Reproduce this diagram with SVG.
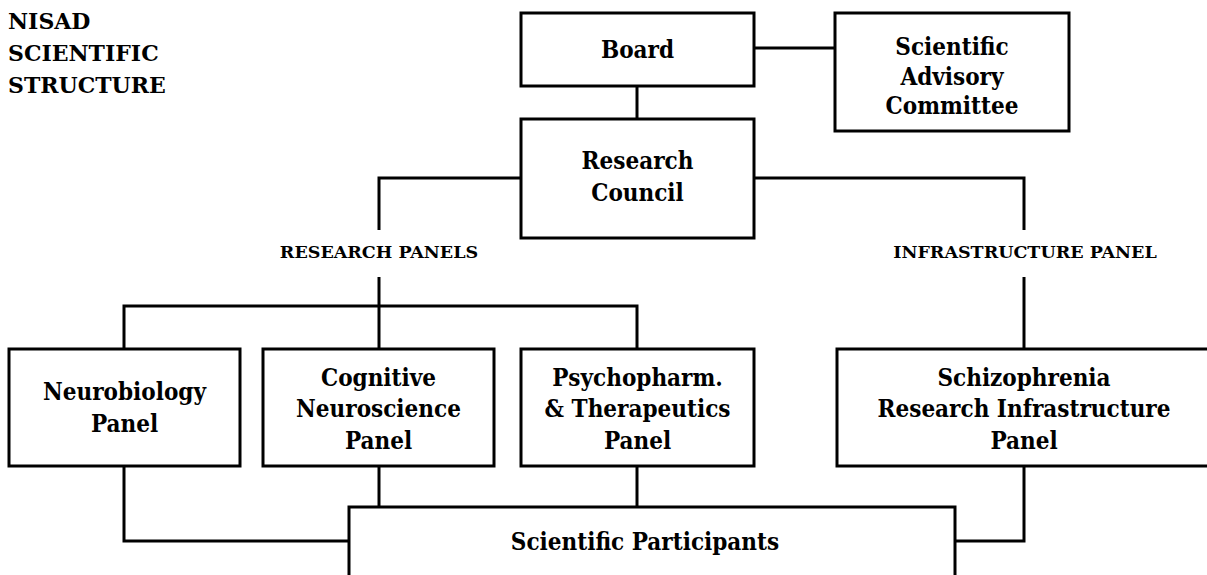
<svg xmlns="http://www.w3.org/2000/svg" width="1207" height="575" viewBox="0 0 1207 575">
<style>
.box{fill:#fff;stroke:#000;stroke-width:3}
.ln{fill:none;stroke:#000;stroke-width:3}
text{font-family:"DejaVu Serif","Liberation Serif",serif;font-weight:bold;fill:#000}
.n{font-family:"DejaVu Serif Condensed","DejaVu Serif",serif;font-stretch:condensed;font-size:24px;text-anchor:middle}
.t{font-size:22px}
.lbl{font-size:17.5px;text-anchor:middle}
</style>
<rect width="1207" height="575" fill="#fff"/>
<g id="title">
<text class="t" x="8" y="29">NISAD</text>
<text class="t" x="8" y="61">SCIENTIFIC</text>
<text class="t" x="8" y="93">STRUCTURE</text>
</g>
<g id="connectors">
<path class="ln" d="M754,48 H835"/>
<path class="ln" d="M637,86 V119"/>
<path class="ln" d="M521,178 H379 V230"/>
<path class="ln" d="M754,178 H1024 V230"/>
<path class="ln" d="M379,277 V349"/>
<path class="ln" d="M124,349 V306 H637 V349"/>
<path class="ln" d="M1024,277 V349"/>
<path class="ln" d="M124,466 V541 H349"/>
<path class="ln" d="M379,466 V507"/>
<path class="ln" d="M637,466 V507"/>
<path class="ln" d="M1024,466 V541 H955"/>
</g>
<g id="label-research">
<text class="lbl" x="379" y="258">RESEARCH PANELS</text>
</g>
<g id="label-infra">
<text class="lbl" x="1025" y="258">INFRASTRUCTURE PANEL</text>
</g>
<g id="board">
<rect class="box" x="521" y="13" width="233" height="73"/>
<text class="n" x="637.5" y="58">Board</text>
</g>
<g id="sac">
<rect class="box" x="835" y="13" width="234" height="118"/>
<text class="n" x="952" y="55">Scientific</text>
<text class="n" x="952" y="85">Advisory</text>
<text class="n" x="952" y="114">Committee</text>
</g>
<g id="council">
<rect class="box" x="521" y="119" width="233" height="119"/>
<text class="n" x="637.5" y="169">Research</text>
<text class="n" x="637.5" y="201">Council</text>
</g>
<g id="neuro">
<rect class="box" x="9" y="349" width="231" height="117"/>
<text class="n" x="124.5" y="400">Neurobiology</text>
<text class="n" x="124.5" y="432">Panel</text>
</g>
<g id="cog">
<rect class="box" x="263" y="349" width="231" height="117"/>
<text class="n" x="378.5" y="386">Cognitive</text>
<text class="n" x="378.5" y="417">Neuroscience</text>
<text class="n" x="378.5" y="449">Panel</text>
</g>
<g id="psych">
<rect class="box" x="521" y="349" width="233" height="117"/>
<text class="n" x="637.5" y="386">Psychopharm.</text>
<text class="n" x="637.5" y="417">&amp; Therapeutics</text>
<text class="n" x="637.5" y="449">Panel</text>
</g>
<g id="schizo">
<rect class="box" x="837" y="349" width="373" height="117"/>
<text class="n" x="1024" y="386">Schizophrenia</text>
<text class="n" x="1024" y="417">Research Infrastructure</text>
<text class="n" x="1024" y="449">Panel</text>
</g>
<g id="participants">
<rect class="box" x="349" y="507" width="606" height="100"/>
<text class="n" x="645" y="550">Scientific Participants</text>
</g>
</svg>
